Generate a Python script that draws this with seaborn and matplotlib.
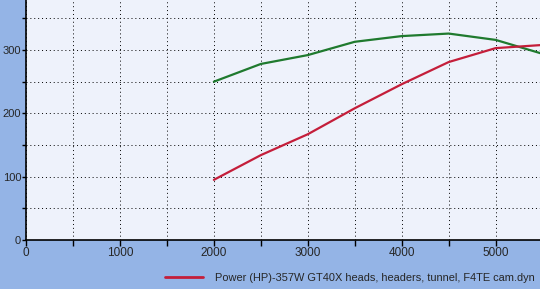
import matplotlib
matplotlib.use("Agg")
import matplotlib.pyplot as plt
import seaborn as sns
import pandas as pd
from matplotlib.ticker import MultipleLocator, FuncFormatter
from matplotlib.lines import Line2D

rpm = [2000, 2500, 3000, 3500, 4000, 4500, 5000, 5500]
torque = [250, 278, 292, 313, 322, 326, 316, 294]
power = [95, 134, 167, 208, 246, 281, 303, 308]
legend_label = "Power (HP)-357W GT40X heads, headers, tunnel, F4TE cam.dyn"

df = pd.DataFrame({"rpm": rpm * 2,
                   "value": torque + power,
                   "series": ["Torque"] * len(rpm) + ["Power"] * len(rpm)})

sns.set_style("white")
plt.rcParams['font.family'] = ['Liberation Sans', 'DejaVu Sans']

fig = plt.figure(figsize=(5.4, 2.89), dpi=100, facecolor="#94B4E6")
ax = fig.add_axes([26/540, 1-240/289, 1-26/540 + 0.01, 240/289])
ax.set_facecolor("#EEF2FB")

sns.lineplot(data=df, x="rpm", y="value", hue="series",
             palette={"Torque": "#1F7A2E", "Power": "#C41E3A"},
             linewidth=1.6, legend=False, ax=ax)

ax.set_xlim(0, 5530)
ax.set_ylim(0, 379)
ax.xaxis.set_major_locator(MultipleLocator(500))
ax.yaxis.set_major_locator(MultipleLocator(50))
ax.xaxis.set_major_formatter(FuncFormatter(lambda v, p: f"{int(v)}" if v % 1000 == 0 else ""))
ax.yaxis.set_major_formatter(FuncFormatter(lambda v, p: f"{int(v)}" if v % 100 == 0 else ""))
ax.grid(True, color="black", linestyle=(0, (1, 3)), linewidth=0.7)
ax.tick_params(axis="x", direction="out", length=4, width=1, color="black",
               labelsize=8.5, pad=1, bottom=True)
ax.tick_params(axis="y", direction="out", length=3, width=1, color="black",
               labelsize=8, pad=0.5, left=True)
ax.set_xlabel("")
ax.set_ylabel("")
for s in ["top", "right"]:
    ax.spines[s].set_visible(False)
for s in ["left", "bottom"]:
    ax.spines[s].set_color("black")
    ax.spines[s].set_linewidth(1.2)

handle = Line2D([], [], color="#C41E3A", linewidth=2)
fig.legend([handle], [legend_label], loc="center left",
           bbox_to_anchor=(161/540, 1-278/289), frameon=False,
           fontsize=7.9, handlelength=3.4, handletextpad=1.1, borderaxespad=0)

fig.savefig("out.png", dpi=100, facecolor=fig.get_facecolor())
